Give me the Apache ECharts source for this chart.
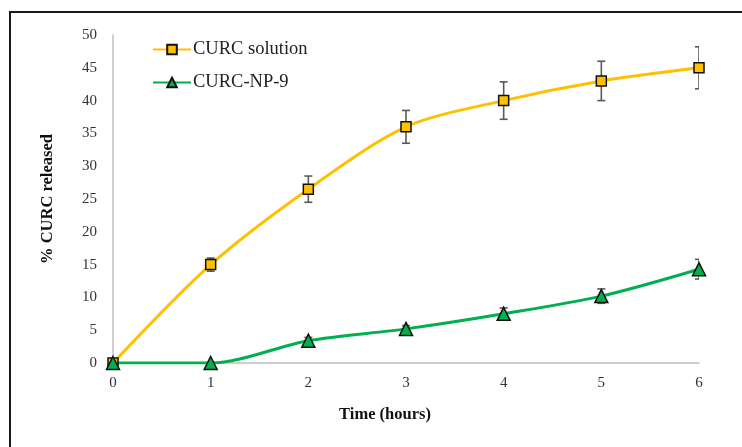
<!DOCTYPE html>
<html>
<head>
<meta charset="utf-8">
<script src="https://cdn.jsdelivr.net/npm/echarts@6/dist/echarts.min.js"></script>
<style>
  html, body { margin: 0; padding: 0; background: #fff; }
  #chart { width: 742px; height: 447px; }
</style>
</head>
<body>
<div id="chart"></div>
<script>
// Release time points (hours)
var hours = [0, 1, 2, 3, 4, 5, 6];
// Cumulative % curcumin released, with standard deviations
var solutionValues = [0, 15, 26.5, 36, 40, 43, 45];
var solutionErr = [0, 1.0, 2.0, 2.5, 2.85, 3.0, 3.2];
var npValues = [0, 0, 3.4, 5.2, 7.5, 10.2, 14.3];
var npErr = [0, 0, 0.5, 0.5, 0.9, 1.1, 1.5];
var yTicks = [0, 5, 10, 15, 20, 25, 30, 35, 40, 45, 50];

var serif = '"Liberation Serif", "Times New Roman", serif';

function pairs(xs, ys) {
  return xs.map(function (x, i) { return [x, ys[i]]; });
}
function errData(xs, ys, es) {
  return xs.map(function (x, i) { return [x, ys[i] - es[i], ys[i] + es[i]]; });
}

function renderErr(params, api) {
  var x = api.value(0);
  var lo = api.coord([x, api.value(1)]);
  var hi = api.coord([x, api.value(2)]);
  var cap = 4;
  var style = { stroke: '#5a5a5a', lineWidth: 1.6, fill: null };
  return {
    type: 'group',
    children: [
      { type: 'line', shape: { x1: lo[0], y1: lo[1], x2: hi[0], y2: hi[1] }, style: style },
      { type: 'line', shape: { x1: lo[0] - cap, y1: lo[1], x2: lo[0] + cap, y2: lo[1] }, style: style },
      { type: 'line', shape: { x1: hi[0] - cap, y1: hi[1], x2: hi[0] + cap, y2: hi[1] }, style: style }
    ]
  };
}

var chart = echarts.init(document.getElementById('chart'));
chart.setOption({
  animation: false,
  backgroundColor: '#fff',
  grid: { left: 113, right: 43, top: 35, bottom: 84 },
  graphic: [
    { type: 'rect', shape: { x: 10, y: 12, width: 760, height: 460 },
      style: { fill: null, stroke: '#1a1a1a', lineWidth: 2 }, z: 0 },
    { type: 'text', x: 385, y: 415,
      style: { text: 'Time (hours)', font: 'bold 16.5px ' + serif, fill: '#111',
               align: 'center', verticalAlign: 'middle' } },
    { type: 'text', x: 48, y: 199, rotation: Math.PI / 2,
      style: { text: '% CURC released', font: 'bold 16.5px ' + serif, fill: '#111',
               align: 'center', verticalAlign: 'middle' } }
  ],
  legend: {
    orient: 'vertical',
    left: 152,
    top: 40,
    padding: 0,
    itemWidth: 38,
    itemHeight: 12,
    itemGap: 14,
    textStyle: { fontFamily: serif, fontSize: 18.5, color: '#222', padding: [0, 0, 0, -3] },
    data: ['CURC solution', 'CURC-NP-9']
  },
  xAxis: {
    type: 'value',
    min: 0, max: 6, interval: 1,
    axisLine: { show: true, lineStyle: { color: '#bfbfbf', width: 1.5 } },
    axisTick: { show: false },
    splitLine: { show: false },
    axisLabel: { fontFamily: serif, fontSize: 15, color: '#333', margin: 13 }
  },
  yAxis: {
    type: 'value',
    min: 0, max: 50, interval: 5,
    axisLine: { show: true, lineStyle: { color: '#bfbfbf', width: 1.5 } },
    axisTick: { show: false },
    splitLine: { show: false },
    axisLabel: {
      fontFamily: serif, fontSize: 15, color: '#333', margin: 16,
      formatter: function (v) { return yTicks.indexOf(v) >= 0 ? String(v) : ''; }
    }
  },
  series: [
    {
      name: 'CURC solution',
      type: 'line',
      smooth: 0.3,
      data: pairs(hours, solutionValues),
      lineStyle: { color: '#FFC000', width: 3 },
      itemStyle: { color: '#FFC000', borderColor: '#111', borderWidth: 1.5 },
      symbol: 'rect',
      symbolSize: 10,
      z: 3
    },
    {
      name: 'CURC-NP-9',
      type: 'line',
      smooth: 0.3,
      data: pairs(hours, npValues),
      lineStyle: { color: '#00B050', width: 3 },
      itemStyle: { color: '#00B050', borderColor: '#111', borderWidth: 1.5 },
      symbol: 'triangle',
      symbolSize: 13,
      z: 3
    },
    {
      type: 'custom',
      renderItem: renderErr,
      data: errData(hours, solutionValues, solutionErr),
      encode: { x: 0, y: [1, 2] },
      clip: true,
      z: 2
    },
    {
      type: 'custom',
      renderItem: renderErr,
      data: errData(hours, npValues, npErr),
      encode: { x: 0, y: [1, 2] },
      clip: true,
      z: 2
    }
  ]
});
</script>
</body>
</html>
